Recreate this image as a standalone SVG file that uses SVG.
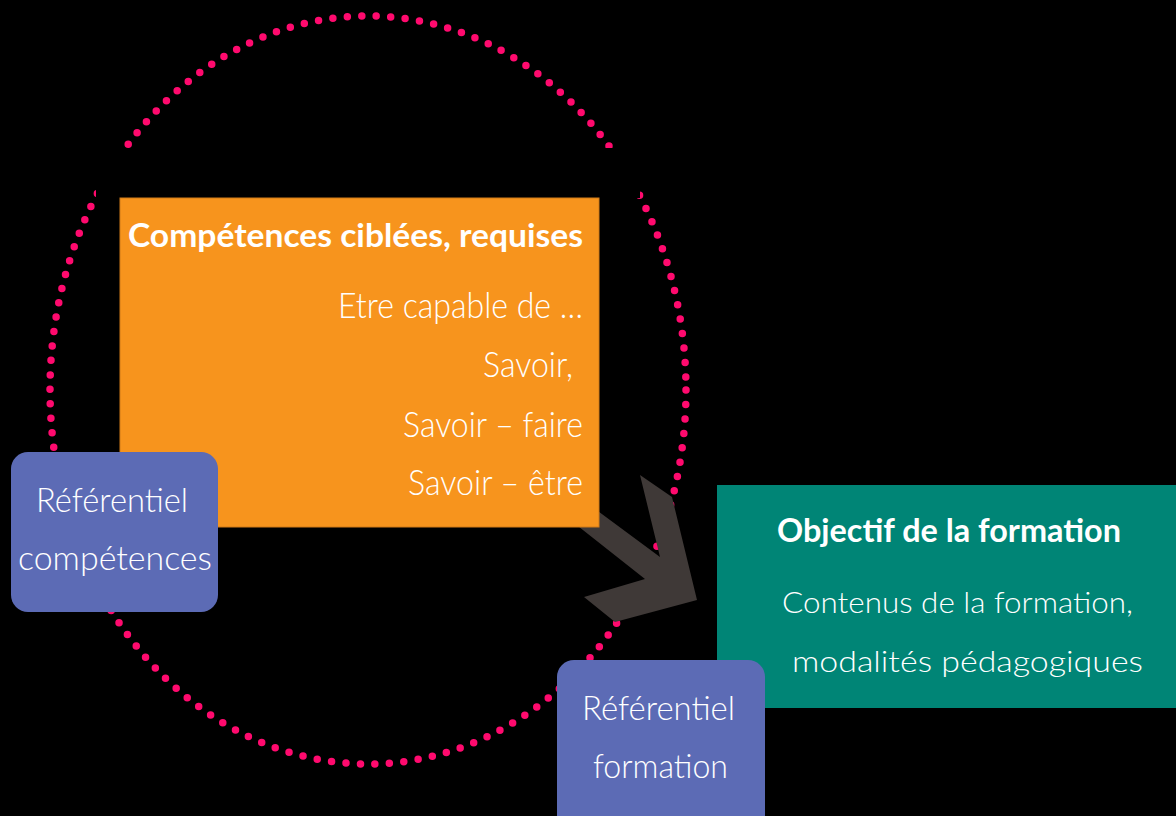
<svg xmlns="http://www.w3.org/2000/svg" width="1176" height="816" viewBox="0 0 1176 816">
  <style>
    .t { font-family: Lato, "Open Sans", "Liberation Sans", sans-serif; fill: #ffffff; }
    .b { font-weight: 700; }
    .l { font-weight: 300; }
    .blue { fill: #5C6BB5; }
  </style>
  <rect x="0" y="0" width="1176" height="816" fill="#000000"/>
  <g id="cycle">
    <ellipse cx="368" cy="390" rx="318" ry="374" fill="none" stroke="#FF0A6E" stroke-width="7.5" stroke-linecap="round" stroke-dasharray="0 14.52"/>
    <rect x="96" y="148" width="544" height="50" fill="#000000"/>
  </g>
  <g id="connectors">
    <polygon points="560,483 660,557 640,475 672,497 697,600 615,622 584,597 645,579 550,504" fill="#3F3937"/>
  </g>
  <g id="competences">
    <rect x="120" y="198" width="479" height="329" fill="#F7941D" stroke="#D07A18" stroke-width="1"/>
    <text class="t b" x="128" y="247" font-size="33" textLength="455" lengthAdjust="spacingAndGlyphs">Compétences ciblées, requises</text>
    <text class="t l" x="338" y="318" font-size="35" textLength="245" lengthAdjust="spacingAndGlyphs">Etre capable de …</text>
    <text class="t l" x="483" y="377" font-size="35" textLength="90" lengthAdjust="spacingAndGlyphs">Savoir,</text>
    <text class="t l" x="403" y="437" font-size="35" textLength="180" lengthAdjust="spacingAndGlyphs">Savoir – faire</text>
    <text class="t l" x="408" y="495" font-size="35" textLength="175" lengthAdjust="spacingAndGlyphs">Savoir – être</text>
  </g>
  <g id="objectif">
    <rect x="717" y="485" width="470" height="223" fill="#008576"/>
    <text class="t b" x="777" y="542" font-size="33" textLength="344" lengthAdjust="spacingAndGlyphs">Objectif de la formation</text>
    <text class="t l" x="782" y="613" font-size="30" textLength="351" lengthAdjust="spacingAndGlyphs">Contenus de la formation,</text>
    <text class="t l" x="792" y="672" font-size="30" textLength="351" lengthAdjust="spacingAndGlyphs">modalités pédagogiques</text>
  </g>
  <g id="ref-competences">
    <rect class="blue" x="11" y="452" width="207" height="160" rx="17"/>
    <text class="t l" x="36" y="512" font-size="34" textLength="152" lengthAdjust="spacingAndGlyphs">Référentiel</text>
    <text class="t l" x="18" y="570" font-size="34" textLength="194" lengthAdjust="spacingAndGlyphs">compétences</text>
  </g>
  <g id="ref-formation">
    <rect class="blue" x="557" y="660" width="208" height="180" rx="17"/>
    <text class="t l" x="582" y="720" font-size="34" textLength="153" lengthAdjust="spacingAndGlyphs">Référentiel</text>
    <text class="t l" x="593" y="778" font-size="34" textLength="135" lengthAdjust="spacingAndGlyphs">formation</text>
  </g>
</svg>
